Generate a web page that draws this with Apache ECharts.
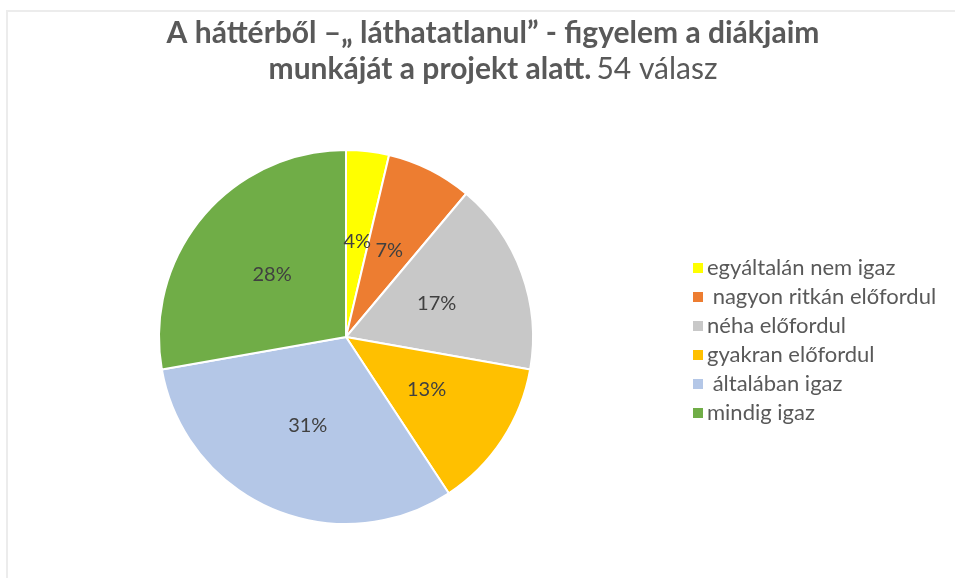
<!DOCTYPE html>
<html>
<head>
<meta charset="utf-8">
<script src="https://cdn.jsdelivr.net/npm/echarts@6/dist/echarts.min.js"></script>
<style>
    html, body { margin: 0; padding: 0; background: #fff; }
    #frame { position: absolute; left: 6px; top: 10px; width: 949px; height: 568px;
        border-left: 2px solid #ececec; border-top: 2px solid #ececec; }
    #chart { position: absolute; left: 0; top: 0; width: 955px; height: 578px; }
</style>
</head>
<body>
<div id="frame"></div>
<div id="chart"></div>
<script>
// válaszok (54 fő)
const categories = ['egyáltalán nem igaz', ' nagyon ritkán előfordul', 'néha előfordul', 'gyakran előfordul', ' általában igaz', 'mindig igaz'];
const answers = [2, 4, 9, 7, 17, 15];
const colors = ['#ffff00', '#ed7d31', '#c8c8c8', '#ffc000', '#b4c7e7', '#70ad47'];

const chart = echarts.init(document.getElementById('chart'), null, {renderer: 'canvas'});

const option = {
    backgroundColor: 'transparent',
    color: colors,
    title: {
        text: '{b|A háttérből –„ láthatatlanul” - figyelem a diákjaim}\n{b|munkáját a projekt alatt.} {n|54 válasz}',
        left: 488,
        top: 10,
        textAlign: 'center',
        textStyle: {
            rich: {
                b: {fontFamily: 'Lato', fontSize: 30, fontWeight: 'bold', color: '#595959', lineHeight: 36},
                n: {fontFamily: 'Lato', fontSize: 30, fontWeight: 'normal', color: '#595959', lineHeight: 36}
            }
        }
    },
    legend: {
        orient: 'vertical',
        left: 686,
        top: 252,
        itemWidth: 12,
        itemHeight: 12,
        itemGap: 7,
        icon: 'rect',
        textStyle: {fontFamily: 'Lato', fontSize: 22, color: '#595959', padding: [0, 0, 0, -2], lineHeight: 22},
        data: categories
    },
    series: [{
        type: 'pie',
        center: [346, 337],
        radius: 187,
        startAngle: 90,
        clockwise: true,
        avoidLabelOverlap: false,
        itemStyle: {borderColor: '#ffffff', borderWidth: 2},
        label: {
            position: 'inside',
            formatter: '{d}%',
            fontFamily: 'Lato',
            fontSize: 20,
            color: '#404040'
        },
        percentPrecision: 0,
        labelLine: {show: false},
        emphasis: {disabled: true},
        animation: false,
        data: categories.map((c, i) => ({name: c, value: answers[i]}))
    }]
};

chart.setOption(option);
</script>
</body>
</html>
